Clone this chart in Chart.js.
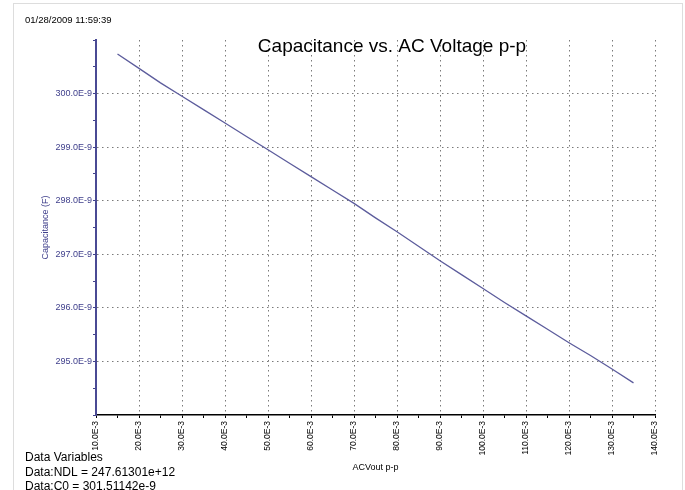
<!DOCTYPE html>
<html>
<head>
<meta charset="utf-8">
<title>Capacitance vs. AC Voltage p-p</title>
<script src="https://cdn.jsdelivr.net/npm/chart.js@4.4.1/dist/chart.umd.min.js"></script>
<style>
  html, body { margin: 0; padding: 0; background: #fff; }
  #chart { display: block; }
</style>
</head>
<body>
<canvas id="chart" width="685" height="490"></canvas>
<script>
// AC voltage p-p, in units of 1E-3
const acVout = [15, 20, 25, 30, 35, 40, 45, 50, 55, 60, 65, 70, 75, 80, 85, 90, 95, 100, 105, 110, 115, 120, 125, 130, 135];
// capacitance, in units of 1E-9 F
const capacitance = [300.74, 300.47, 300.20, 299.95, 299.70, 299.45, 299.20, 298.95, 298.70, 298.45, 298.20, 297.95,
  297.68, 297.42, 297.15, 296.88, 296.62, 296.36, 296.10, 295.85, 295.60, 295.35, 295.11, 294.86, 294.60];

const timestamp = "01/28/2009 11:59:39";
const chartTitle = "Capacitance vs. AC Voltage p-p";
const dataVariables = ["Data Variables", "Data:NDL = 247.61301e+12", "Data:C0 = 301.51142e-9"];

const FONT = "'Liberation Sans', Arial, sans-serif";
const NAVY = "#40408c";
const GRID = "#7a7a7a";

const isWhole = v => Math.abs(v - Math.round(v)) < 1e-6;

const extraText = {
  id: "extraText",
  beforeDraw(chart) {
    const ctx = chart.ctx;
    ctx.save();
    ctx.strokeStyle = "#dddddd";
    ctx.lineWidth = 1;
    ctx.strokeRect(13.5, 3.5, 669, 520);
    ctx.restore();
  },
  afterDraw(chart) {
    const ctx = chart.ctx;
    ctx.save();
    ctx.fillStyle = "#000";
    ctx.textBaseline = "middle";
    ctx.textAlign = "left";
    ctx.font = "9.5px " + FONT;
    ctx.fillText(timestamp, 25, 20);

    ctx.textAlign = "center";
    ctx.font = "19px " + FONT;
    ctx.fillText(chartTitle, 392, 47);

    ctx.textAlign = "left";
    ctx.font = "12px " + FONT;
    dataVariables.forEach((t, i) => ctx.fillText(t, 25, 458 + i * 14.5));
    ctx.restore();
  }
};

new Chart(document.getElementById("chart"), {
  type: "line",
  data: {
    datasets: [{
      data: acVout.map((v, i) => ({ x: v, y: capacitance[i] })),
      borderColor: "#5c5c9c",
      borderWidth: 1.3,
      pointRadius: 0,
      tension: 0,
      fill: false
    }]
  },
  options: {
    responsive: false,
    animation: false,
    layout: { padding: { top: 40, right: 30, left: 0, bottom: 0 } },
    plugins: { legend: { display: false }, tooltip: { enabled: false } },
    scales: {
      x: {
        type: "linear",
        min: 10,
        max: 140,
        afterFit(scale) { scale.height = 75; },
        ticks: {
          stepSize: 5,
          autoSkip: false,
          minRotation: 90,
          maxRotation: 90,
          padding: 3,
          color: "#000",
          font: { family: FONT, size: 8.5 },
          callback: v => (isWhole(v / 10) ? v.toFixed(1) + "E-3" : "")
        },
        grid: {
          color: ctx => (ctx.tick && isWhole(ctx.tick.value / 10) && ctx.tick.value > 10 ? GRID : "rgba(0,0,0,0)"),
          lineWidth: 1,
          tickLength: 3,
          tickColor: "#000",
          tickWidth: 1
        },
        border: { display: true, color: "#000", width: 1.5, dash: [1.5, 3.5] },
        title: {
          display: true,
          text: "ACVout p-p",
          color: "#000",
          font: { family: FONT, size: 9 },
          padding: { top: 0, bottom: 17 }
        }
      },
      y: {
        type: "linear",
        min: 294,
        max: 301,
        afterFit(scale) { scale.width = 96; },
        ticks: {
          stepSize: 0.5,
          autoSkip: false,
          padding: 1,
          color: NAVY,
          font: { family: FONT, size: 9 },
          callback: v => (isWhole(v) && v > 294 && v < 301 ? v.toFixed(1) + "E-9" : "")
        },
        grid: {
          color: ctx => (ctx.tick && isWhole(ctx.tick.value) && ctx.tick.value > 294 && ctx.tick.value < 301 ? GRID : "rgba(0,0,0,0)"),
          lineWidth: 1,
          tickLength: 3,
          tickColor: NAVY,
          tickWidth: 1.2
        },
        border: { display: true, color: "#4a4a94", width: 2, dash: [1.5, 3.5] },
        title: {
          display: true,
          text: "Capacitance (F)",
          color: NAVY,
          font: { family: FONT, size: 9 },
          padding: { top: 40 }
        }
      }
    }
  },
  plugins: [extraText]
});
</script>
</body>
</html>
